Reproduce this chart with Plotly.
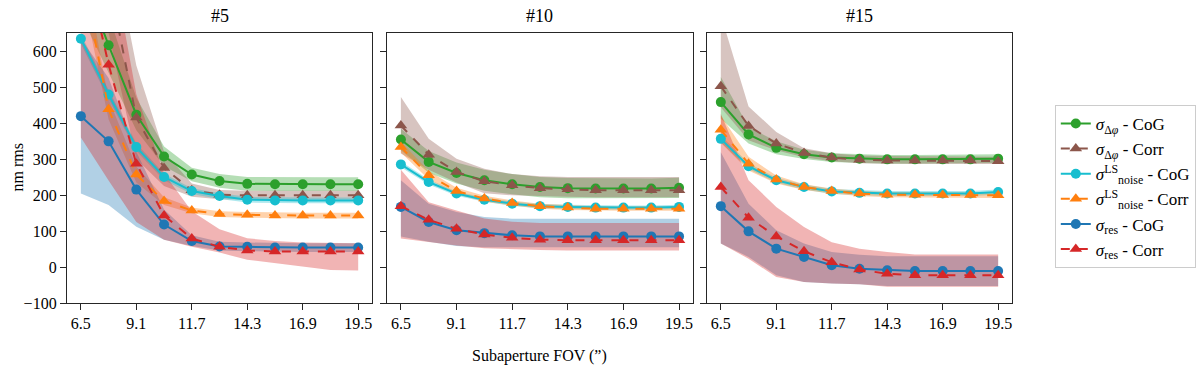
import plotly.graph_objects as go

# subaperture FOV (arcsec)
fov = [6.5, 7.8, 9.1, 10.4, 11.7, 13.0, 14.3, 15.6, 16.9, 18.2, 19.5]
tick_vals = [6.5, 9.1, 11.7, 14.3, 16.9, 19.5]
panels = ["#5", "#10", "#15"]

# ---- #5 ----
p5_dphi_cog = [820, 616, 423, 307, 257, 239, 231, 230, 230, 230, 230]
p5_dphi_cog_lo = [700, 540, 380, 280, 238, 220, 212, 211, 211, 211, 211]
p5_dphi_cog_hi = [950, 700, 470, 335, 276, 258, 250, 249, 249, 249, 249]
p5_dphi_corr = [1000, 800, 415, 275, 213, 201, 199, 199, 199, 199, 199]
p5_dphi_corr_lo = [850, 650, 300, 225, 195, 188, 187, 187, 187, 187, 187]
p5_dphi_corr_hi = [1150, 950, 560, 320, 232, 214, 212, 212, 212, 212, 212]
p5_noise_cog = [634, 479, 333, 250, 211, 197, 187, 185, 185, 185, 185]
p5_noise_cog_lo = [620, 466, 322, 241, 203, 189, 179, 177, 177, 177, 177]
p5_noise_cog_hi = [648, 492, 344, 259, 219, 205, 195, 193, 193, 193, 193]
p5_noise_corr = [830, 438, 257, 183, 157, 147, 145, 143, 143, 143, 143]
p5_noise_corr_lo = [780, 410, 235, 172, 149, 139, 137, 135, 135, 135, 135]
p5_noise_corr_hi = [880, 466, 279, 194, 165, 155, 153, 151, 151, 151, 151]
p5_res_cog = [419, 349, 215, 118, 72, 57, 56, 54, 54, 54, 54]
p5_res_cog_lo = [204, 172, 112, 76, 58, 46, 44, 42, 42, 42, 42]
p5_res_cog_hi = [634, 525, 320, 160, 88, 70, 68, 66, 66, 66, 66]
p5_res_corr = [900, 562, 287, 143, 79, 56, 46, 43, 43, 43, 43]
p5_res_corr_lo = [360, 240, 125, 76, 56, 40, 20, 10, 0, -8, -10]
p5_res_corr_hi = [1200, 900, 480, 260, 155, 105, 80, 72, 68, 66, 66]

# ---- #10 ----
p10_dphi_cog = [354, 292, 261, 241, 230, 222, 219, 218, 218, 218, 220]
p10_dphi_cog_lo = [324, 262, 232, 212, 202, 194, 191, 191, 191, 191, 192]
p10_dphi_cog_hi = [384, 322, 290, 270, 258, 250, 247, 246, 246, 246, 248]
p10_dphi_corr = [393, 312, 264, 238, 227, 219, 216, 213, 213, 213, 213]
p10_dphi_corr_lo = [315, 270, 235, 205, 199, 196, 195, 194, 194, 194, 194]
p10_dphi_corr_hi = [472, 356, 301, 273, 258, 252, 250, 250, 250, 250, 250]
p10_noise_cog = [285, 236, 204, 187, 176, 169, 167, 165, 165, 165, 167]
p10_noise_cog_lo = [277, 229, 198, 181, 170, 163, 161, 159, 159, 159, 161]
p10_noise_cog_hi = [293, 243, 210, 193, 182, 175, 173, 171, 171, 171, 173]
p10_noise_corr = [333, 255, 211, 190, 178, 169, 165, 162, 162, 162, 162]
p10_noise_corr_lo = [318, 243, 202, 182, 171, 162, 158, 156, 156, 156, 156]
p10_noise_corr_hi = [348, 267, 220, 198, 185, 176, 172, 168, 168, 168, 168]
p10_res_cog = [167, 125, 102, 94, 88, 85, 85, 85, 85, 85, 85]
p10_res_cog_lo = [85, 70, 58, 55, 55, 55, 55, 55, 55, 55, 55]
p10_res_cog_hi = [241, 176, 153, 139, 134, 134, 134, 134, 134, 134, 134]
p10_res_corr = [169, 131, 106, 90, 81, 76, 74, 74, 74, 74, 74]
p10_res_corr_lo = [79, 69, 60, 52, 49, 47, 46, 46, 46, 46, 46]
p10_res_corr_hi = [270, 180, 157, 135, 126, 122, 122, 122, 122, 122, 122]

# ---- #15 ----
p15_dphi_cog = [458, 368, 331, 313, 304, 301, 299, 299, 299, 299, 301]
p15_dphi_cog_lo = [412, 343, 313, 300, 292, 289, 287, 287, 287, 287, 289]
p15_dphi_cog_hi = [528, 389, 349, 326, 316, 313, 311, 311, 311, 311, 313]
p15_dphi_corr = [502, 392, 343, 317, 304, 298, 296, 296, 296, 296, 294]
p15_dphi_corr_lo = [444, 352, 324, 305, 294, 288, 287, 287, 287, 287, 286]
p15_dphi_corr_hi = [700, 446, 375, 330, 316, 310, 308, 308, 308, 308, 306]
p15_noise_cog = [356, 280, 241, 222, 210, 206, 204, 204, 204, 204, 208]
p15_noise_cog_lo = [346, 272, 234, 215, 203, 199, 197, 197, 197, 197, 201]
p15_noise_cog_hi = [366, 288, 248, 229, 217, 213, 211, 211, 211, 211, 215]
p15_noise_corr = [381, 287, 243, 222, 211, 204, 201, 201, 200, 200, 199]
p15_noise_corr_lo = [345, 268, 232, 214, 204, 197, 194, 194, 193, 193, 192]
p15_noise_corr_hi = [421, 306, 254, 230, 218, 211, 208, 208, 207, 207, 206]
p15_res_cog = [169, 99, 51, 28, 5, -5, -9, -11, -11, -11, -11]
p15_res_cog_lo = [65, 28, -23, -42, -46, -48, -53, -53, -53, -53, -53]
p15_res_cog_hi = [319, 176, 102, 65, 42, 34, 30, 30, 30, 30, 30]
p15_res_corr = [222, 137, 85, 44, 13, -7, -19, -23, -23, -23, -23]
p15_res_corr_lo = [65, 23, -28, -42, -46, -48, -55, -55, -55, -55, -55]
p15_res_corr_hi = [426, 241, 167, 111, 69, 51, 42, 35, 35, 35, 35]

data = {
    "#5": [
        (p5_dphi_cog, p5_dphi_cog_lo, p5_dphi_cog_hi),
        (p5_dphi_corr, p5_dphi_corr_lo, p5_dphi_corr_hi),
        (p5_noise_cog, p5_noise_cog_lo, p5_noise_cog_hi),
        (p5_noise_corr, p5_noise_corr_lo, p5_noise_corr_hi),
        (p5_res_cog, p5_res_cog_lo, p5_res_cog_hi),
        (p5_res_corr, p5_res_corr_lo, p5_res_corr_hi),
    ],
    "#10": [
        (p10_dphi_cog, p10_dphi_cog_lo, p10_dphi_cog_hi),
        (p10_dphi_corr, p10_dphi_corr_lo, p10_dphi_corr_hi),
        (p10_noise_cog, p10_noise_cog_lo, p10_noise_cog_hi),
        (p10_noise_corr, p10_noise_corr_lo, p10_noise_corr_hi),
        (p10_res_cog, p10_res_cog_lo, p10_res_cog_hi),
        (p10_res_corr, p10_res_corr_lo, p10_res_corr_hi),
    ],
    "#15": [
        (p15_dphi_cog, p15_dphi_cog_lo, p15_dphi_cog_hi),
        (p15_dphi_corr, p15_dphi_corr_lo, p15_dphi_corr_hi),
        (p15_noise_cog, p15_noise_cog_lo, p15_noise_cog_hi),
        (p15_noise_corr, p15_noise_corr_lo, p15_noise_corr_hi),
        (p15_res_cog, p15_res_cog_lo, p15_res_cog_hi),
        (p15_res_corr, p15_res_corr_lo, p15_res_corr_hi),
    ],
}

names = [
    "<i>σ</i><sub>Δ<i>φ</i></sub> - CoG",
    "<i>σ</i><sub>Δ<i>φ</i></sub> - Corr",
    "<i>σ</i><sup>LS</sup><sub>noise</sub> - CoG",
    "<i>σ</i><sup>LS</sup><sub>noise</sub> - Corr",
    "<i>σ</i><sub>res</sub> - CoG",
    "<i>σ</i><sub>res</sub> - Corr",
]
colors = ["#2ca02c", "#8c564b", "#17becf", "#ff7f0e", "#1f77b4", "#d62728"]
fills = ["rgba(44,160,44,0.35)", "rgba(140,86,75,0.35)", "rgba(23,190,207,0.35)",
         "rgba(255,127,14,0.35)", "rgba(31,119,180,0.35)", "rgba(214,39,40,0.35)"]
dashed = [False, True, False, True, False, True]

FONT = "Liberation Serif"
fig = go.Figure()

for k, p in enumerate(panels):
    xa = "x" if k == 0 else "x%d" % (k + 1)
    ya = "y" if k == 0 else "y%d" % (k + 1)
    # shaded bands first
    for i, (m, lo, hi) in enumerate(data[p]):
        fig.add_trace(go.Scatter(x=fov, y=lo, mode="lines", line=dict(width=0),
                                 showlegend=False, hoverinfo="skip", xaxis=xa, yaxis=ya))
        fig.add_trace(go.Scatter(x=fov, y=hi, mode="lines", line=dict(width=0),
                                 fill="tonexty", fillcolor=fills[i],
                                 showlegend=False, hoverinfo="skip", xaxis=xa, yaxis=ya))
    for i, (m, lo, hi) in enumerate(data[p]):
        fig.add_trace(go.Scatter(
            x=fov, y=m, mode="lines+markers", name=names[i],
            line=dict(color=colors[i], width=2, dash="dash" if dashed[i] else "solid"),
            marker=dict(color=colors[i], size=10 if not dashed[i] else 11,
                        symbol="triangle-up" if dashed[i] else "circle"),
            showlegend=(k == 0), xaxis=xa, yaxis=ya))

domains = [[0, 0.3228], [0.3386, 0.6624], [0.6772, 1.0]]
axis_common = dict(showline=True, linecolor="#262626", linewidth=1.3, mirror=True,
                   ticks="outside", ticklen=6, tickcolor="#262626", tickwidth=1.3,
                   showgrid=False, zeroline=False,
                   tickfont=dict(family=FONT, size=16, color="black"))
layout = dict(
    width=1200, height=367,
    margin=dict(l=67, r=188, t=33, b=64),
    plot_bgcolor="white", paper_bgcolor="white",
    font=dict(family=FONT, size=16, color="black"),
    showlegend=True,
    legend=dict(xref="container", yref="container", x=0.879, y=0.714,
                xanchor="left", yanchor="top",
                bordercolor="#cccccc", borderwidth=1, traceorder="normal",
                font=dict(family=FONT, size=17, color="black"),
                tracegroupgap=0, itemwidth=30),
)
for k in range(3):
    sx = "" if k == 0 else str(k + 1)
    layout["xaxis" + sx] = dict(axis_common, domain=domains[k], range=[5.85, 20.15],
                                tickvals=tick_vals, ticktext=[f"{v:.1f}" for v in tick_vals],
                                anchor="y" + sx)
    layout["yaxis" + sx] = dict(axis_common, range=[-100, 650], dtick=100,
                                showticklabels=(k == 0), anchor="x" + sx)
fig.update_layout(**layout)

annotations = []
for k, p in enumerate(panels):
    c = (domains[k][0] + domains[k][1]) / 2
    annotations.append(dict(text=p, x=c, y=1.0, xref="paper", yref="paper",
                            xanchor="center", yanchor="bottom", yshift=5, showarrow=False,
                            font=dict(family=FONT, size=18, color="black")))
annotations.append(dict(text="Subaperture FOV (\u201d)", x=0.5, y=0, xref="paper", yref="paper",
                        xanchor="center", yanchor="top", yshift=-42, showarrow=False,
                        font=dict(family=FONT, size=16, color="black")))
annotations.append(dict(text="nm rms", x=0, y=0.5, xref="paper", yref="paper",
                        xanchor="right", yanchor="middle", xshift=-40, textangle=-90,
                        showarrow=False, font=dict(family=FONT, size=16, color="black")))
fig.update_layout(annotations=annotations)

# drop the browser's default body margin so the figure sits at the page corner
fig.write_html("out.html", config={"displayModeBar": False},
               post_script="document.body.style.margin='0px';")
